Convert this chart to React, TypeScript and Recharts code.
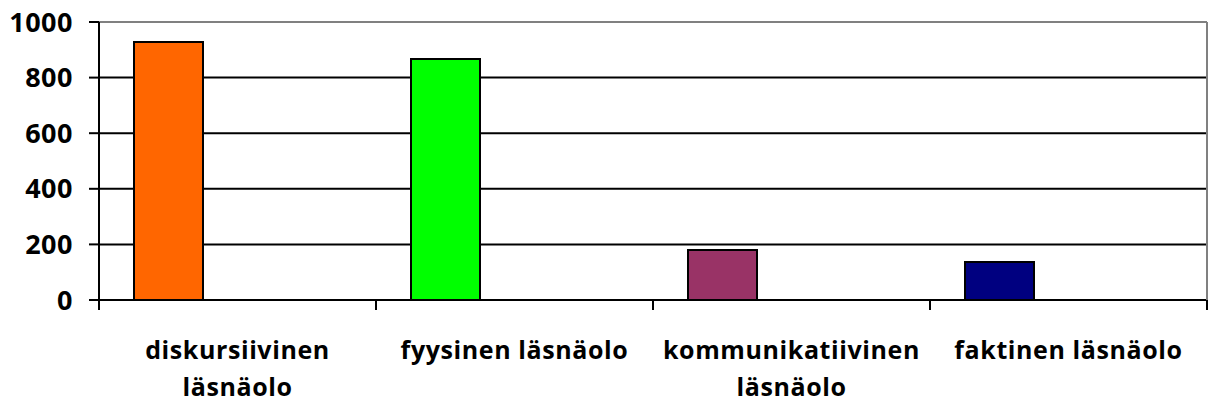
import { Bar, BarChart, CartesianGrid, Cell, ReferenceLine, XAxis, YAxis } from "recharts";

const categories = ["diskursiivinen läsnäolo", "fyysinen läsnäolo", "kommunikatiivinen läsnäolo", "faktinen läsnäolo"];
const labelLines = [["diskursiivinen", "läsnäolo"], ["fyysinen läsnäolo"], ["kommunikatiivinen", "läsnäolo"], ["faktinen läsnäolo"]];
const values = [928, 867, 180, 137];
const colors = ["#FF6600", "#00FF00", "#993366", "#000080"];
const yTicks = [0, 200, 400, 600, 800, 1000];

const data = categories.map((name, i) => ({ name, value: values[i] }));

const FONT = "'Open Sans', Carlito, sans-serif";
const AXIS_Y = 300;
const HALF_BAND = (1108 / 4) / 2;

const CategoryTick = (props: any) => {
  const { x, index } = props;
  const lines = labelLines[index] ?? [];
  return (
    <g>
      <line x1={x - HALF_BAND} x2={x - HALF_BAND} y1={AXIS_Y} y2={AXIS_Y + 10} stroke="#000" strokeWidth={2} />
      {index === categories.length - 1 && (
        <line x1={x + HALF_BAND} x2={x + HALF_BAND} y1={AXIS_Y} y2={AXIS_Y + 10} stroke="#000" strokeWidth={2} />
      )}
      {lines.map((t, i) => (
        <text key={i} x={x} y={359 + i * 37} textAnchor="middle" fontSize={25} fontWeight={700}
          letterSpacing={0.6} fontFamily={FONT} fill="#000">
          {t}
        </text>
      ))}
    </g>
  );
};

export default function App() {
  return (
    <div style={{ width: 1215, height: 405, background: "#fff" }}>
      <style>{`body{margin:0}`}</style>
      <BarChart
        width={1215}
        height={405}
        data={data}
        margin={{ top: 22, right: 0, bottom: 0, left: 0 }}
        barCategoryGap={35}
        barGap={0}
      >
        <CartesianGrid vertical={false} stroke="#000" strokeWidth={2} />
        <XAxis
          dataKey="name"
          height={105}
          axisLine={{ stroke: "#000", strokeWidth: 2 }}
          tickLine={false}
          tick={<CategoryTick />}
          interval={0}
        />
        <YAxis
          width={99}
          domain={[0, 1000]}
          ticks={yTicks}
          interval={0}
          tickSize={10}
          tickMargin={16}
          axisLine={{ stroke: "#000", strokeWidth: 2 }}
          tickLine={{ stroke: "#000", strokeWidth: 2 }}
          tick={{ fill: "#000", fontSize: 27, fontWeight: 700, fontFamily: FONT, letterSpacing: 0.5 }}
        />
        <YAxis
          yAxisId="right"
          orientation="right"
          width={8}
          tick={false}
          tickLine={false}
          axisLine={{ stroke: "#808080", strokeWidth: 2 }}
        />
        <ReferenceLine y={1000} stroke="#808080" strokeWidth={2} />
        <Bar dataKey="value" stroke="#000" strokeWidth={2} isAnimationActive={false}>
          {data.map((d, i) => (
            <Cell key={d.name} fill={colors[i]} />
          ))}
        </Bar>
        <Bar dataKey="empty1" isAnimationActive={false} />
        <Bar dataKey="empty2" isAnimationActive={false} />
      </BarChart>
    </div>
  );
}
